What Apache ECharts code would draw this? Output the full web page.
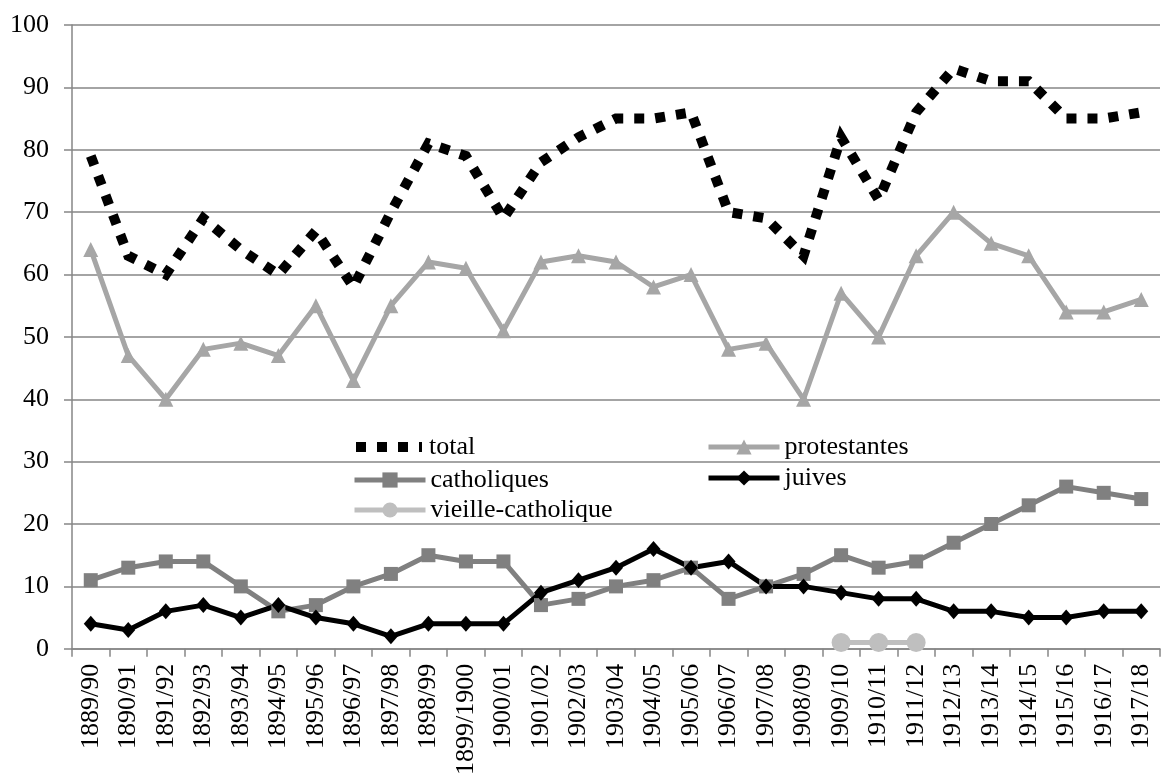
<!DOCTYPE html>
<html><head><meta charset="utf-8">
<script src="https://cdn.jsdelivr.net/npm/echarts@6/dist/echarts.min.js"></script>
<style>html,body{margin:0;padding:0;background:#fff}#c{width:1166px;height:778px}</style>
</head><body><div id="c"></div>
<script>
const categories = ['1889/90','1890/91','1891/92','1892/93','1893/94','1894/95','1895/96','1896/97','1897/98','1898/99','1899/1900','1900/01','1901/02','1902/03','1903/04','1904/05','1905/06','1906/07','1907/08','1908/09','1909/10','1910/11','1911/12','1912/13','1913/14','1914/15','1915/16','1916/17','1917/18'];
const total = [79,63,60,69,64,60,67,58,70,81,79,69,78,82,85,85,86,70,69,63,82,72,86,93,91,91,85,85,86];
const protestantes = [64,47,40,48,49,47,55,43,55,62,61,51,62,63,62,58,60,48,49,40,57,50,63,70,65,63,54,54,56];
const catholiques = [11,13,14,14,10,6,7,10,12,15,14,14,7,8,10,11,13,8,10,12,15,13,14,17,20,23,26,25,24];
const juives = [4,3,6,7,5,7,5,4,2,4,4,4,9,11,13,16,13,14,10,10,9,8,8,6,6,5,5,6,6];
const vieilleCatholique = [null,null,null,null,null,null,null,null,null,null,null,null,null,null,null,null,null,null,null,null,1,1,1,null,null,null,null,null,null];
const yTicks = [0,10,20,30,40,50,60,70,80,90,100];

const FONT = 'Liberation Serif';
const chart = echarts.init(document.getElementById('c'), null, {renderer:'canvas'});
const legendText = {fontFamily: FONT, fontSize: 26, color: '#000', lineHeight: 26};
function leg(name, left, top, extra) {
  return Object.assign({
    left: left, top: top, itemWidth: 71, itemHeight: 19, padding: 0,
    data: [name], textStyle: legendText, selectedMode: false,
    lineStyle: {width: 5}
  }, extra || {});
}
chart.setOption({
  animation: false,
  textStyle: {fontFamily: FONT},
  grid: {left: 72, right: 6, top: 25, bottom: 127, containLabel: false},
  legend: [
    leg({name:'total', icon:'path://M0 0H10V10H0Z M21 0H31V10H21Z M42 0H52V10H42Z M63 0H66V10H63Z'}, 356, 434,
        {itemWidth: 66, itemHeight: 10, textStyle: Object.assign({}, legendText, {padding: [0,0,0,2]})}),
    leg('catholiques', 352, 467),
    leg('vieille-catholique', 352, 497),
    leg('protestantes', 706, 434),
    leg('juives', 706, 465)
  ],
  xAxis: {
    type: 'category', data: categories, boundaryGap: true,
    axisLine: {lineStyle: {color: '#868686', width: 1.5}},
    axisTick: {show: true, length: 8, interval: 0, lineStyle: {color: '#868686', width: 1.5}},
    axisLabel: {rotate: 90, interval: 0, fontFamily: FONT, fontSize: 26, color: '#000', margin: 15}
  },
  yAxis: {
    type: 'value', min: 0, max: 100, interval: 10,
    axisLine: {show: true, lineStyle: {color: '#868686', width: 1.5}},
    axisTick: {show: true, length: 8, lineStyle: {color: '#868686', width: 1.5}},
    splitLine: {lineStyle: {color: '#868686', width: 1.5}},
    axisLabel: {fontFamily: FONT, fontSize: 26, color: '#000', margin: 23,
      formatter: v => yTicks.includes(v) ? String(v) : ''}
  },
  series: [
    {name:'total', type:'line', data: total, symbol:'none',
     lineStyle:{color:'#000', width: 10, type:[10,11], cap:'butt', join:'miter'}, itemStyle:{color:'#000'}},
    {name:'protestantes', type:'line', data: protestantes, symbol:'triangle', symbolSize: 15,
     lineStyle:{color:'#a6a6a6', width: 5}, itemStyle:{color:'#a6a6a6'}},
    {name:'catholiques', type:'line', data: catholiques, symbol:'rect', symbolSize: 14,
     lineStyle:{color:'#808080', width: 5}, itemStyle:{color:'#808080'}},
    {name:'juives', type:'line', data: juives, symbol:'diamond', symbolSize: [14,16],
     lineStyle:{color:'#000', width: 5}, itemStyle:{color:'#000'}},
    {name:'vieille-catholique', type:'line', data: vieilleCatholique, symbol:'circle', symbolSize: 19,
     lineStyle:{color:'#bfbfbf', width: 5}, itemStyle:{color:'#bfbfbf'}}
  ]
});
</script></body></html>
